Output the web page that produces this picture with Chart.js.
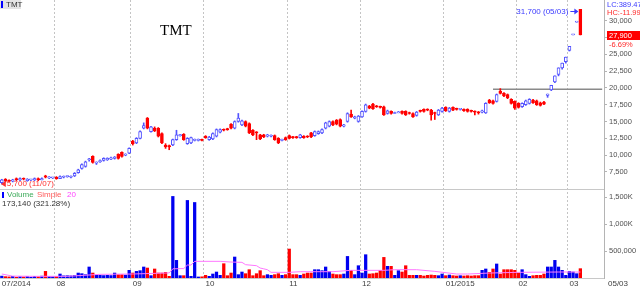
<!DOCTYPE html>
<html>
<head>
<meta charset="utf-8">
<script src="https://cdn.jsdelivr.net/npm/chart.js@4.4.1/dist/chart.umd.min.js"></script>
<style>
  html, body { margin: 0; padding: 0; background: #fff; }
</style>
</head>
<body>
<canvas id="myChart" width="640" height="288"></canvas>
<script>
const symbol = 'TMT';

// trading days 11/07/2014 - 05/03/2015
const dates = [
  '11/07','14/07','15/07','16/07','17/07','18/07','21/07','22/07','23/07','24/07','25/07','28/07','29/07','30/07','31/07',
  '01/08','04/08','05/08','06/08','07/08','08/08','11/08','12/08','13/08','14/08','15/08','18/08','19/08','20/08','21/08','22/08','25/08','26/08','27/08','28/08','29/08',
  '03/09','04/09','05/09','08/09','09/09','10/09','11/09','12/09','15/09','16/09','17/09','18/09','19/09','22/09','23/09','24/09','25/09','26/09','29/09','30/09',
  '01/10','02/10','03/10','06/10','07/10','08/10','09/10','10/10','13/10','14/10','15/10','16/10','17/10','20/10','21/10','22/10','23/10','24/10','27/10','28/10','29/10','30/10','31/10',
  '03/11','04/11','05/11','06/11','07/11','10/11','11/11','12/11','13/11','14/11','17/11','18/11','19/11','20/11','21/11','24/11','25/11','26/11','27/11','28/11',
  '01/12','02/12','03/12','04/12','05/12','08/12','09/12','10/12','11/12','12/12','15/12','16/12','17/12','18/12','19/12','22/12','23/12','24/12','25/12','26/12','29/12','30/12','31/12',
  '05/01','06/01','07/01','08/01','09/01','12/01','13/01','14/01','15/01','16/01','19/01','20/01','21/01','22/01','23/01','26/01','27/01','28/01','29/01','30/01',
  '02/02','03/02','04/02','05/02','06/02','09/02','10/02','11/02','12/02','13/02','16/02','25/02','26/02','27/02',
  '02/03','03/03','04/03','05/03'
];
// empty space kept on the right of the last bar
const futureDates = ['06/03', '09/03', '10/03', '11/03', '12/03', '13/03'];

const tickDates = ['11/07', '01/08', '03/09', '01/10', '03/11', '01/12', '05/01', '02/02', '02/03'];
const tickLabels = ['07/2014', '08', '09', '10', '11', '12', '01/2015', '02', '03'];

const openP = [
  5900,6400,6200,6100,6500,6300,6500,6200,6300,6300,6500,6300,6900,6600,6600,
  6700,6500,6700,6800,6700,6900,7400,8000,8300,9300,9800,8800,9000,9200,9300,9400,9500,10100,10400,10000,10300,
  12100,11800,12500,14000,15500,13500,14000,14000,13200,11500,11400,11500,12300,12900,13100,11700,11800,12200,12200,12300,
  12800,12300,12400,12800,13400,13800,13900,14600,14000,15000,14500,15000,14700,13700,13400,13000,13000,12800,12800,12900,12500,12200,12600,
  12900,12700,12700,12600,12800,12800,13300,12900,13200,13300,14000,14300,15000,15200,15300,14300,15000,16100,15500,15000,
  15700,16500,17300,17600,17300,17200,17200,16200,16500,16200,16300,16500,16500,16300,16200,15900,16600,16800,16800,16700,16300,16000,16500,
  17100,16500,17100,16900,16800,16800,16800,16600,16500,16400,16400,16300,18200,18100,18000,19500,19200,19000,18300,18000,
  17700,17200,17500,17700,18200,18100,17800,17900,18900,19700,20900,22000,23000,23900,
  25600,27900,29800,31700
];
const highP = [
  6400,6500,6300,6400,6600,6600,6600,6500,6400,6600,6600,6600,7000,6800,6700,
  6800,6900,6900,6900,6900,7400,7900,8700,9100,9500,9900,9000,9300,9600,9600,9700,9800,10200,10500,10200,11100,
  12200,12600,13600,14800,15600,14300,14200,14100,13300,11700,11500,12400,13700,13100,13200,12600,12700,12400,12400,12400,
  12900,12800,13300,13900,13900,13900,14000,14700,15100,16200,15200,15100,14800,13800,13500,13100,13100,13100,13000,13000,12600,12400,12700,
  13000,12800,12800,13100,12900,12900,13400,13600,13600,13900,14900,15100,15100,15300,15400,14600,16300,16700,15800,15900,
  16600,17600,17400,17700,17400,17300,17300,16700,16600,16400,16500,16600,16600,16400,16300,16500,16700,16900,16900,16800,16400,16800,17100,
  17200,17100,17200,17000,16900,16900,16900,16700,16600,16500,16700,17800,18300,18200,19100,19900,19300,19100,18400,18100,
  17800,17800,18200,18400,18300,18200,17900,18000,19100,20400,21800,23000,23700,24600,
  26200,28000,29900,31700
];
const lowP = [
  5700,6000,6000,6000,6200,6200,6300,6100,6200,6200,6200,6300,6600,6500,6500,
  6400,6500,6600,6700,6600,6800,7300,7900,8200,9100,8800,8600,8900,9100,9200,9300,9400,9400,9700,9900,10200,
  11500,11700,12400,13900,13900,13400,13500,12700,11700,11000,10800,11400,12200,12800,12200,11600,11700,12100,12100,12100,
  12500,12200,12300,12700,13300,13600,13700,13900,13900,14900,14400,14200,13200,12900,12300,12300,12600,12700,12700,12200,11700,12100,12200,
  12400,12500,12500,12500,12500,12600,12600,12800,13100,13200,13900,14200,14400,14500,14200,14200,14900,15600,15400,14900,
  15600,16400,16900,16800,17100,17000,15900,16100,16100,16200,16300,16100,15900,16100,15600,15800,16400,16400,16600,15200,15300,15900,16400,
  16500,16400,16600,16700,16700,16500,16400,16400,16000,16100,16300,16200,17700,17600,17900,19100,18700,18400,17600,16800,
  17000,17100,17400,17600,17700,17400,17300,17500,18600,19600,20800,21800,22800,23700,
  25500,27900,29800,27900
];
const closeP = [
  6300,6100,6100,6300,6300,6500,6400,6400,6300,6500,6300,6500,6700,6700,6600,
  6500,6800,6800,6800,6800,7300,7800,8600,9000,9400,8900,8900,9200,9500,9500,9600,9700,9500,9800,10100,11000,
  11700,12500,13500,14400,14000,14200,13600,12800,11800,11200,11200,12300,13000,12900,12300,12500,12600,12300,12300,12200,
  12600,12700,13200,13800,13800,13700,13800,14000,15000,15500,15100,14300,13300,13000,13300,12400,12700,13000,12900,12300,11800,12300,12300,
  12500,12600,12600,13000,12600,12700,12700,13500,13500,13800,14800,15000,14500,14600,14300,14500,16200,15700,15700,15800,
  16500,17500,17000,16900,17200,17100,16000,16600,16200,16300,16400,16200,16000,16200,15700,16400,16500,16500,16700,16000,16200,16700,17000,
  16600,17000,16700,16800,16800,16600,16500,16500,16400,16300,16600,17700,17800,17700,19000,19200,18800,18500,17700,17000,
  17100,17700,18100,18300,17800,17500,17400,17600,19100,20400,21800,23000,23700,24600,
  26200,28000,29900,27900
];
const volume = [
  35000,25000,20000,30000,15000,25000,20000,30000,15000,30000,25000,35000,123000,30000,25000,
  30000,74000,40000,43000,40000,49000,92000,80000,62000,204000,92000,49000,49000,45000,49000,45000,92000,62000,62000,55000,142000,
  92000,123000,136000,204000,185000,43000,167000,92000,92000,105000,31000,1512000,327000,43000,43000,1438000,31000,1400000,19000,22000,
  49000,31000,74000,111000,49000,265000,43000,92000,389000,62000,111000,80000,154000,43000,80000,136000,43000,62000,49000,62000,80000,49000,62000,
  537000,62000,62000,49000,74000,92000,92000,154000,154000,136000,204000,123000,74000,62000,62000,74000,400000,142000,62000,228000,
  92000,432000,74000,80000,92000,142000,382000,216000,216000,49000,136000,111000,228000,49000,49000,49000,49000,37000,49000,55000,49000,43000,74000,
  43000,55000,43000,37000,43000,37000,43000,37000,43000,43000,142000,167000,105000,167000,260000,74000,154000,154000,154000,142000,
  92000,154000,62000,31000,43000,49000,49000,74000,204000,204000,327000,204000,142000,49000,
  123000,111000,80000,173140
];

// Volume Simple 20
const maDates = ['11/07','16/07','24/07','06/08','19/08','03/09','16/09','17/09','18/09','23/09','24/09','25/09','26/09',
  '07/10','10/10','15/10','16/10','21/10','22/10','23/10','24/10','27/10','03/11','06/11','19/11','26/11',
  '09/12','12/12','22/12','29/12','08/01','13/01','21/01','02/02','25/02','05/03'];
const maVal = [74000, 35000, 31000, 31000, 68000, 74000, 92000, 95000, 170000, 175000, 240000, 240000, 309000,
  309000, 296000, 290000, 247000, 228000, 185000, 170000, 154000, 105000, 105000, 117000, 117000, 142000,
  142000, 154000, 154000, 123000, 74000, 74000, 92000, 105000, 111000, 111000];

const priceTicks = [7500, 10000, 12500, 15000, 17500, 20000, 22500, 25000, 27500, 30000];
const volTicks = [500000, 1000000, 1500000];
const volTickLabels = ['500,000', '1,000K', '1,500K'];

const levelPrice = 19800;
const levelFrom = '22/01';

const UP = '#5252ff';
const DOWN = '#ff0000';
const FONT = '"Liberation Sans", Arial, sans-serif';

const n = dates.length;
const labels = dates.concat(futureDates);
const isUp = closeP.map((c, i) => c >= openP[i]);
const monthIdx = tickDates.map(d => dates.indexOf(d));

function fmt(v) {
  return v.toLocaleString('en-US');
}

const overlay = {
  id: 'overlay',
  beforeDatasetsDraw(chart) {
    const { ctx, chartArea: a, scales } = chart;
    ctx.save();
    ctx.strokeStyle = '#c8c8c8';
    ctx.lineWidth = 1;
    const yb = Math.round(scales.y.bottom) + 0.5;
    ctx.beginPath();
    ctx.moveTo(a.left, yb);
    ctx.lineTo(a.right, yb);
    ctx.stroke();
    ctx.restore();
  },
  afterDraw(chart) {
    const { ctx, scales: { x, y } } = chart;
    ctx.save();
    ctx.textBaseline = 'middle';

    // top-left legend
    ctx.fillStyle = '#e4e4e4';
    ctx.fillRect(0, 0, 21, 9);
    ctx.fillStyle = '#0000ff';
    ctx.fillRect(1, 1, 2, 7);
    ctx.fillStyle = '#333';
    ctx.font = '8px ' + FONT;
    ctx.fillText(symbol, 6, 5);

    // title
    ctx.font = '15px "Liberation Serif", serif';
    ctx.fillStyle = '#000';
    ctx.textBaseline = 'alphabetic';
    ctx.fillText(symbol, 160, 35);
    ctx.textBaseline = 'middle';

    // highest high marker
    const hi = highP.indexOf(Math.max(...highP));
    const hx = x.getPixelForValue(hi);
    const hy = Math.round(y.getPixelForValue(highP[hi])) + 2.5;
    ctx.strokeStyle = '#3a3aff';
    ctx.fillStyle = '#3a3aff';
    ctx.lineWidth = 1;
    ctx.beginPath();
    ctx.moveTo(hx - 10, hy);
    ctx.lineTo(hx - 3, hy);
    ctx.stroke();
    ctx.beginPath();
    ctx.moveTo(hx - 2, hy);
    ctx.lineTo(hx - 6, hy - 3);
    ctx.lineTo(hx - 6, hy + 3);
    ctx.closePath();
    ctx.fill();
    ctx.font = '8px ' + FONT;
    ctx.textAlign = 'right';
    ctx.fillText(fmt(highP[hi]) + ' (' + dates[hi] + ')', hx - 12, hy);

    // lowest low marker
    const lo = lowP.indexOf(Math.min(...lowP));
    const lx = x.getPixelForValue(lo);
    const ly = Math.round(y.getPixelForValue(lowP[lo]));
    ctx.fillStyle = '#ff3030';
    ctx.beginPath();
    ctx.moveTo(lx - 1, ly);
    ctx.lineTo(lx + 4, ly - 3);
    ctx.lineTo(lx + 4, ly + 3);
    ctx.closePath();
    ctx.fill();
    ctx.textAlign = 'left';
    ctx.fillText(fmt(lowP[lo]) + ' (' + dates[lo] + ')', lx + 5, ly);

    // right side info
    const last = n - 1;
    const chg = (closeP[last] - closeP[last - 1]) / closeP[last - 1] * 100;
    ctx.font = '7.5px ' + FONT;
    ctx.fillStyle = '#3a3aff';
    ctx.fillText('LC:389.47', 607, 4.5);
    ctx.fillStyle = '#ff2a2a';
    ctx.fillText('HC:-11.99', 607, 12.5);
    const cy = Math.round(y.getPixelForValue(closeP[last]));
    ctx.fillStyle = '#ff0000';
    ctx.fillRect(607, cy - 4, 33, 9);
    ctx.fillStyle = '#fff';
    ctx.fillText(fmt(closeP[last]), 609, cy + 0.5);
    ctx.fillStyle = '#ff2a2a';
    ctx.fillText(chg.toFixed(2) + '%', 609, cy + 10);

    // volume legend
    const vt = chart.scales.vol.top;
    ctx.font = '8px ' + FONT;
    ctx.fillStyle = '#0000ff';
    ctx.fillRect(2, vt + 3, 2, 6);
    ctx.fillStyle = '#3cab5a';
    ctx.fillText('Volume', 7, vt + 6);
    ctx.fillStyle = '#ff5a5a';
    ctx.fillText('Simple', 37, vt + 6);
    ctx.fillStyle = '#ff44ff';
    ctx.fillText('20', 67, vt + 6);
    ctx.fillStyle = '#333';
    ctx.fillText(fmt(volume[last]) + ' (321.28%)', 2, vt + 15);

    // last date under the price axis
    ctx.fillStyle = '#404040';
    ctx.fillText(dates[last], 608, 284);
    ctx.restore();
  }
};

const ctx = document.getElementById('myChart').getContext('2d');
const chart = new Chart(ctx, {
  type: 'bar',
  data: {
    labels: labels,
    datasets: [
      {
        label: 'body',
        data: openP.map((o, i) => [o, closeP[i]]),
        yAxisID: 'y',
        grouped: false,
        barThickness: 3,
        minBarLength: 1,
        borderWidth: 1,
        borderSkipped: false,
        borderColor: isUp.map(u => (u ? UP : DOWN)),
        backgroundColor: isUp.map(u => (u ? '#ffffff' : DOWN))
      },
      {
        label: 'wick',
        data: lowP.map((l, i) => [l, highP[i]]),
        yAxisID: 'y',
        grouped: false,
        barThickness: 1,
        borderWidth: 0,
        backgroundColor: isUp.map(u => (u ? UP : DOWN))
      },
      {
        type: 'line',
        label: 'level',
        data: [{ x: levelFrom, y: levelPrice }, { x: labels[labels.length - 1], y: levelPrice }],
        yAxisID: 'y',
        borderColor: '#8a8a8a',
        borderWidth: 1.5,
        pointRadius: 0
      },
      {
        type: 'line',
        label: 'Simple 20',
        data: maDates.map((d, k) => ({ x: d, y: maVal[k] })),
        yAxisID: 'vol',
        borderColor: '#ff77ff',
        borderWidth: 1,
        pointRadius: 0,
        tension: 0
      },
      {
        label: 'Volume',
        data: volume,
        yAxisID: 'vol',
        grouped: false,
        barThickness: 2.6,
        backgroundColor: isUp.map(u => (u ? '#0000f0' : '#ff0000'))
      }
    ]
  },
  options: {
    responsive: false,
    animation: false,
    events: [],
    layout: { padding: 0 },
    plugins: { legend: { display: false }, tooltip: { enabled: false } },
    scales: {
      x: {
        type: 'category',
        offset: true,
        grid: {
          offset: true,
          drawTicks: false,
          color: c => (c.index > 0 && monthIdx.includes(c.index) ? '#c4c4c4' : 'rgba(0,0,0,0)')
        },
        border: { color: '#c8c8c8', dash: [2, 2] },
        ticks: {
          autoSkip: false,
          maxRotation: 0,
          align: 'start',
          padding: 1,
          color: '#404040',
          font: { family: FONT, size: 8 },
          callback: (v, i) => {
            const k = monthIdx.indexOf(i);
            return k >= 0 ? tickLabels[k] : '';
          }
        },
        afterFit: s => { s.height = 10; s.paddingLeft = 0; s.paddingRight = 0; }
      },
      y: {
        position: 'right',
        stack: 'panels',
        stackWeight: 189,
        min: 4950,
        max: 33100,
        afterBuildTicks: s => { s.ticks = priceTicks.map(v => ({ value: v })); },
        grid: { drawOnChartArea: false, tickLength: 3, color: '#b4b4b4' },
        border: { color: '#b4b4b4' },
        ticks: { autoSkip: false, padding: 2, color: '#505050', font: { family: FONT, size: 7.5 }, callback: v => fmt(v) },
        afterFit: s => { s.width = 36; s.paddingTop = 0; s.paddingBottom = 0; }
      },
      vol: {
        position: 'right',
        stack: 'panels',
        stackWeight: 89,
        min: 0,
        max: 1650000,
        afterBuildTicks: s => { s.ticks = volTicks.map(v => ({ value: v })); },
        grid: { drawOnChartArea: false, tickLength: 3, color: '#b4b4b4' },
        border: { color: '#b4b4b4' },
        ticks: { autoSkip: false, padding: 2, color: '#505050', font: { family: FONT, size: 7.5 }, callback: (v, i) => volTickLabels[i] },
        afterFit: s => { s.width = 36; s.paddingTop = 0; s.paddingBottom = 0; }
      }
    }
  },
  plugins: [overlay]
});
</script>
</body>
</html>
